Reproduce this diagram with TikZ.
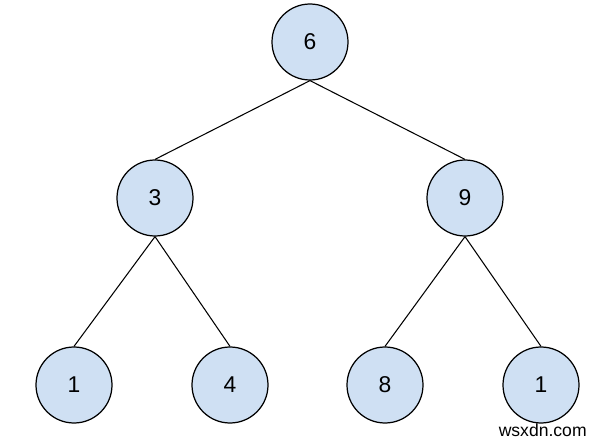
\documentclass[tikz,border=0pt]{standalone}
\usepackage{fontspec}
\setmainfont{Liberation Sans}
\usetikzlibrary{positioning}
\definecolor{nodeblue}{HTML}{CFE0F3}

\begin{document}
\begin{tikzpicture}[
  on grid,
  vertex/.style={circle, draw, line width=.7pt, fill=nodeblue, minimum size=1.52cm, inner sep=0pt, font=\fontsize{13}{15}\selectfont},
  edge/.style={line width=.6pt}
]
  \useasboundingbox (0,0) rectangle (11.98,8.8);
  \node[vertex] (root) at (6.2,7.96) {6};
  \node[vertex,below left=3.12cm and 3.1cm of root] (left) {3};
  \node[vertex,below right=3.12cm and 3.1cm of root] (right) {9};
  \node[vertex,below left=3.74cm and 1.62cm of left] (ll) {1};
  \node[vertex,below right=3.74cm and 1.5cm of left] (lr) {4};
  \node[vertex,below left=3.74cm and 1.6cm of right] (rl) {8};
  \node[vertex,below right=3.74cm and 1.52cm of right] (rr) {1};
  \node[font=\fontsize{10}{12}\selectfont, anchor=east, inner sep=0pt] (mark) at (11.74,0.2) {wsxdn.com};

  \draw[edge] (root.south) -- (left.north);
  \draw[edge] (root.south) -- (right.north);
  \draw[edge] (left.south) -- (ll.north);
  \draw[edge] (left.south) -- (lr.north);
  \draw[edge] (right.south) -- (rl.north);
  \draw[edge] (right.south) -- (rr.north);
\end{tikzpicture}
\end{document}
